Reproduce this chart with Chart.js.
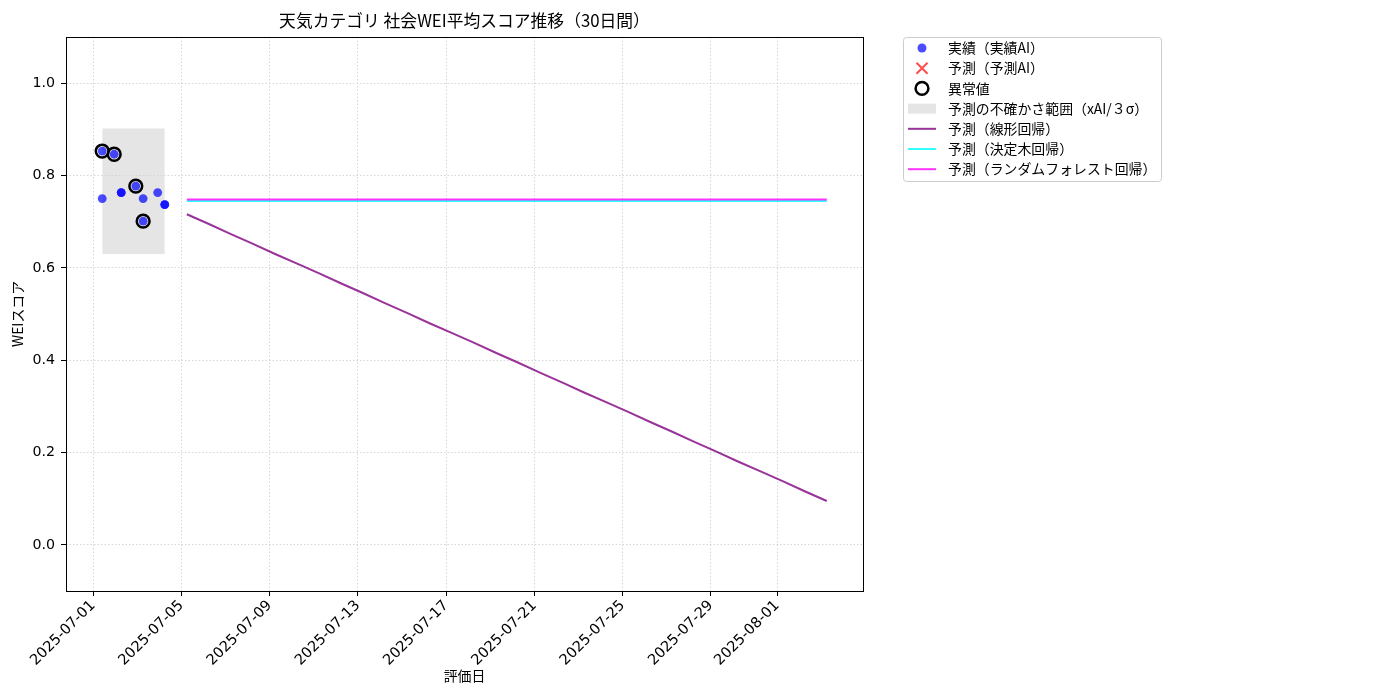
<!DOCTYPE html>
<html>
<head>
<meta charset="utf-8">
<title>天気カテゴリ 社会WEI平均スコア推移</title>
<script src="https://cdn.jsdelivr.net/npm/chart.js@4.4.0/dist/chart.umd.min.js"></script>
<style>
  html, body { margin: 0; padding: 0; background: #fff; }
  #wrap { width: 1400px; height: 700px; position: relative; }
</style>
</head>
<body>
<div id="wrap"><canvas id="wei-chart"></canvas></div>
<script>
// =============================
// Data
// =============================

// Actual scores (実績AI)
const actualDates = [
    '2025-07-01T10:00', '2025-07-01T10:00', '2025-07-01T23:00',
    '2025-07-02T06:40', '2025-07-02T06:40', '2025-07-02T22:30',
    '2025-07-03T06:30', '2025-07-03T06:30', '2025-07-03T22:20',
    '2025-07-04T06:00', '2025-07-04T06:00'
];
const actualScores = [0.853, 0.750, 0.846, 0.763, 0.763, 0.777, 0.750, 0.701, 0.763, 0.737, 0.737];

// Outliers (異常値)
const outlierDates = ['2025-07-01T10:00', '2025-07-01T23:00', '2025-07-02T22:30', '2025-07-03T06:30'];
const outlierScores = [0.853, 0.846, 0.777, 0.701];

// Uncertainty band over the actual period
const bandLow = 0.630;
const bandHigh = 0.902;

// Forecast dates (30 days)
const forecastDates = [
    '2025-07-05T06:00', '2025-07-06T06:00', '2025-07-07T06:00', '2025-07-08T06:00', '2025-07-09T06:00',
    '2025-07-10T06:00', '2025-07-11T06:00', '2025-07-12T06:00', '2025-07-13T06:00', '2025-07-14T06:00',
    '2025-07-15T06:00', '2025-07-16T06:00', '2025-07-17T06:00', '2025-07-18T06:00', '2025-07-19T06:00',
    '2025-07-20T06:00', '2025-07-21T06:00', '2025-07-22T06:00', '2025-07-23T06:00', '2025-07-24T06:00',
    '2025-07-25T06:00', '2025-07-26T06:00', '2025-07-27T06:00', '2025-07-28T06:00', '2025-07-29T06:00',
    '2025-07-30T06:00', '2025-07-31T06:00', '2025-08-01T06:00', '2025-08-02T06:00', '2025-08-03T06:00'
];
const linearForecast = [
    0.716, 0.695, 0.673, 0.652, 0.630, 0.609, 0.588, 0.566, 0.545, 0.523,
    0.502, 0.480, 0.459, 0.438, 0.416, 0.395, 0.373, 0.352, 0.330, 0.309,
    0.288, 0.266, 0.245, 0.223, 0.202, 0.180, 0.159, 0.138, 0.116, 0.095
];
const treeForecast = [
    0.745, 0.745, 0.745, 0.745, 0.745, 0.745, 0.745, 0.745, 0.745, 0.745,
    0.745, 0.745, 0.745, 0.745, 0.745, 0.745, 0.745, 0.745, 0.745, 0.745,
    0.745, 0.745, 0.745, 0.745, 0.745, 0.745, 0.745, 0.745, 0.745, 0.745
];
const forestForecast = [
    0.748, 0.748, 0.748, 0.748, 0.748, 0.748, 0.748, 0.748, 0.748, 0.748,
    0.748, 0.748, 0.748, 0.748, 0.748, 0.748, 0.748, 0.748, 0.748, 0.748,
    0.748, 0.748, 0.748, 0.748, 0.748, 0.748, 0.748, 0.748, 0.748, 0.748
];

// Axis ticks
const xTickLabels = ['2025-07-01', '2025-07-05', '2025-07-09', '2025-07-13', '2025-07-17',
                     '2025-07-21', '2025-07-25', '2025-07-29', '2025-08-01'];
const yTickValues = [0.0, 0.2, 0.4, 0.6, 0.8, 1.0];

// =============================
// Helpers
// =============================

const FONT = '"Noto Sans CJK JP", "Noto Sans", sans-serif';
const TICK_FONT = "'DejaVu Sans', 'Noto Sans', sans-serif";
const DAY = 86400000;
const origin = Date.parse('2025-07-01T00:00Z');
const toDay = s => (Date.parse(s + (s.length > 10 ? 'Z' : 'T00:00Z')) - origin) / DAY;
const pts = (dates, values) => dates.map((d, i) => ({ x: toDay(d), y: values[i] }));

// matplotlib-like 5% margins on x
const xFirst = toDay(actualDates[0]);
const xLast = toDay(forecastDates[forecastDates.length - 1]);
const xPad = (xLast - xFirst) * 0.05;

const legendItems = [
    { label: '実績（実績AI）', kind: 'dot' },
    { label: '予測（予測AI）', kind: 'cross' },
    { label: '異常値', kind: 'ring' },
    { label: '予測の不確かさ範囲（xAI/３σ）', kind: 'rect' },
    { label: '予測（線形回帰）', kind: 'line', color: 'rgba(128,0,128,0.8)' },
    { label: '予測（決定木回帰）', kind: 'line', color: 'rgba(0,255,255,0.8)' },
    { label: '予測（ランダムフォレスト回帰）', kind: 'line', color: 'rgba(255,0,255,0.8)' }
];

// =============================
// Title, labels, frame and legend
// =============================

const decorPlugin = {
    id: 'decor',
    afterDraw(chart) {
        const { ctx, chartArea: a } = chart;
        ctx.save();

        // frame
        ctx.strokeStyle = '#000';
        ctx.lineWidth = 1;
        ctx.strokeRect(a.left + 0.5, a.top + 0.5, a.right - a.left, a.bottom - a.top);

        // title + axis labels
        ctx.fillStyle = '#000';
        ctx.textAlign = 'center';
        ctx.textBaseline = 'middle';
        ctx.font = '16.8px ' + FONT;
        ctx.fillText('天気カテゴリ 社会WEI平均スコア推移（30日間）', (a.left + a.right) / 2, 21);
        ctx.font = '13.9px ' + FONT;
        ctx.fillText('評価日', (a.left + a.right) / 2, 676);
        ctx.translate(18, (a.top + a.bottom) / 2);
        ctx.rotate(-Math.PI / 2);
        ctx.fillText('WEIスコア', 0, 0);
        ctx.setTransform(chart.currentDevicePixelRatio, 0, 0, chart.currentDevicePixelRatio, 0, 0);

        // legend box
        const lx = 903, ly = 37, lw = 258, lh = 144;
        ctx.fillStyle = 'rgba(255,255,255,0.8)';
        ctx.strokeStyle = '#cccccc';
        ctx.lineWidth = 1;
        ctx.beginPath();
        ctx.roundRect(lx + 0.5, ly + 0.5, lw, lh, 3);
        ctx.fill();
        ctx.stroke();

        legendItems.forEach((item, i) => {
            const y = 47 + i * 20.2;
            const cx = 922;
            if (item.kind === 'dot') {
                ctx.fillStyle = 'rgba(0,0,255,0.7)';
                ctx.beginPath();
                ctx.arc(cx, y + 1, 4.5, 0, Math.PI * 2);
                ctx.fill();
            } else if (item.kind === 'cross') {
                ctx.strokeStyle = 'rgba(255,0,0,0.7)';
                ctx.lineWidth = 2;
                ctx.beginPath();
                ctx.moveTo(cx - 5.5, y - 4.5); ctx.lineTo(cx + 5.5, y + 6.5);
                ctx.moveTo(cx + 5.5, y - 4.5); ctx.lineTo(cx - 5.5, y + 6.5);
                ctx.stroke();
            } else if (item.kind === 'ring') {
                ctx.strokeStyle = '#000';
                ctx.lineWidth = 2.5;
                ctx.beginPath();
                ctx.arc(cx, y + 1, 6.4, 0, Math.PI * 2);
                ctx.stroke();
            } else if (item.kind === 'rect') {
                ctx.fillStyle = 'rgba(211,211,211,0.6)';
                ctx.fillRect(908, y - 4, 28, 10);
            } else {
                ctx.strokeStyle = item.color;
                ctx.lineWidth = 2;
                ctx.beginPath();
                ctx.moveTo(908, y + 1);
                ctx.lineTo(936, y + 1);
                ctx.stroke();
            }
            ctx.fillStyle = '#000';
            ctx.textAlign = 'left';
            ctx.textBaseline = 'middle';
            ctx.font = '13.9px ' + FONT;
            ctx.fillText(item.label, 948, y + 1);
        });

        ctx.restore();
    }
};

// =============================
// Chart
// =============================

document.addEventListener('DOMContentLoaded', () => {
    const ctx = document.getElementById('wei-chart').getContext('2d');
    const bandStart = toDay(actualDates[0]);
    const bandEnd = toDay(actualDates[actualDates.length - 1]);

    new Chart(ctx, {
        type: 'scatter',
        data: {
            datasets: [
                {
                    label: '予測の不確かさ範囲（xAI/３σ）',
                    type: 'line',
                    data: [{ x: bandStart, y: bandHigh }, { x: bandEnd, y: bandHigh }],
                    fill: { value: bandLow },
                    backgroundColor: 'rgba(211,211,211,0.6)',
                    borderWidth: 0,
                    pointRadius: 0,
                    order: 10
                },
                {
                    label: '予測（線形回帰）',
                    type: 'line',
                    data: pts(forecastDates, linearForecast),
                    borderColor: 'rgba(128,0,128,0.8)',
                    borderWidth: 2,
                    pointRadius: 0,
                    fill: false,
                    order: 6
                },
                {
                    label: '予測（決定木回帰）',
                    type: 'line',
                    data: pts(forecastDates, treeForecast),
                    borderColor: 'rgba(0,255,255,0.8)',
                    borderWidth: 2,
                    pointRadius: 0,
                    fill: false,
                    order: 5
                },
                {
                    label: '予測（ランダムフォレスト回帰）',
                    type: 'line',
                    data: pts(forecastDates, forestForecast),
                    borderColor: 'rgba(255,0,255,0.8)',
                    borderWidth: 2,
                    pointRadius: 0,
                    fill: false,
                    order: 4
                },
                {
                    label: '予測（予測AI）',
                    data: [],
                    pointStyle: 'crossRot',
                    borderColor: 'rgba(255,0,0,0.7)',
                    order: 3
                },
                {
                    label: '実績（実績AI）',
                    data: pts(actualDates, actualScores),
                    pointRadius: 4.4,
                    pointBorderWidth: 0,
                    pointBackgroundColor: 'rgba(0,0,255,0.7)',
                    order: 2
                },
                {
                    label: '異常値',
                    data: pts(outlierDates, outlierScores),
                    pointRadius: 6.4,
                    pointBorderWidth: 2.5,
                    pointBorderColor: '#000',
                    pointBackgroundColor: 'rgba(0,0,0,0)',
                    order: 1
                }
            ]
        },
        options: {
            responsive: true,
            maintainAspectRatio: false,
            animation: false,
            layout: { padding: { left: 0, top: 37, right: 537, bottom: 0 } },
            plugins: {
                legend: { display: false },
                title: { display: false },
                tooltip: { enabled: false }
            },
            scales: {
                x: {
                    type: 'linear',
                    min: xFirst - xPad,
                    max: xLast + xPad,
                    afterBuildTicks: scale => {
                        scale.ticks = xTickLabels.map(t => ({ value: toDay(t) }));
                    },
                    afterFit: scale => { scale.height = 109; },
                    ticks: {
                        autoSkip: false,
                        minRotation: 45,
                        maxRotation: 45,
                        color: '#000',
                        font: { family: TICK_FONT, size: 14.6 },
                        padding: 1,
                        callback: v => {
                            const i = xTickLabels.findIndex(t => Math.abs(toDay(t) - v) < 1e-6);
                            return i >= 0 ? xTickLabels[i] : '';
                        }
                    },
                    grid: {
                        color: '#cccccc',
                        lineWidth: 0.8,
                        tickColor: '#000',
                        tickLength: 5,
                        tickWidth: 1,
                        tickBorderDash: []
                    },
                    border: { display: false, dash: [1.5, 2] }
                },
                y: {
                    min: -0.1,
                    max: 1.1,
                    afterBuildTicks: scale => {
                        scale.ticks = yTickValues.map(v => ({ value: v }));
                    },
                    afterFit: scale => { scale.width = 66; },
                    ticks: {
                        color: '#000',
                        font: { family: TICK_FONT, size: 14.2 },
                        padding: 6,
                        callback: v => v.toFixed(1)
                    },
                    grid: {
                        color: '#cccccc',
                        lineWidth: 0.8,
                        tickColor: '#000',
                        tickLength: 5,
                        tickWidth: 1,
                        tickBorderDash: []
                    },
                    border: { display: false, dash: [1.5, 2] }
                }
            }
        },
        plugins: [decorPlugin]
    });
});
</script>
</body>
</html>
